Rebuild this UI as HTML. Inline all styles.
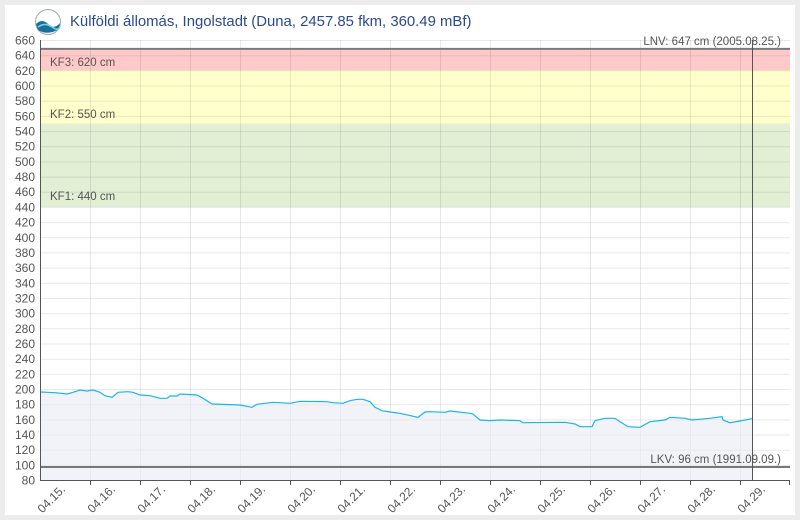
<!DOCTYPE html>
<html><head><meta charset="utf-8"><style>
html,body{margin:0;padding:0;background:#ececec;}
svg{display:block;font-family:"Liberation Sans",sans-serif;}
</style></head><body>
<svg width="800" height="520" viewBox="0 0 800 520">
<rect x="5" y="5" width="790" height="510" fill="#fff"/>
<rect x="40" y="49.9" width="750" height="20.5" fill="#ffc9c9"/>
<rect x="40" y="70.4" width="750" height="53.1" fill="#ffffcc"/>
<rect x="40" y="123.5" width="750" height="83.5" fill="#e2efd4"/>
<g stroke="#000" stroke-opacity="0.09" stroke-width="1">
<line x1="40" y1="40.5" x2="790" y2="40.5"/><line x1="40" y1="55.7" x2="790" y2="55.7"/><line x1="40" y1="70.8" x2="790" y2="70.8"/><line x1="40" y1="86" x2="790" y2="86"/><line x1="40" y1="101.2" x2="790" y2="101.2"/><line x1="40" y1="116.4" x2="790" y2="116.4"/><line x1="40" y1="131.5" x2="790" y2="131.5"/><line x1="40" y1="146.7" x2="790" y2="146.7"/><line x1="40" y1="161.9" x2="790" y2="161.9"/><line x1="40" y1="177.1" x2="790" y2="177.1"/><line x1="40" y1="192.2" x2="790" y2="192.2"/><line x1="40" y1="207.4" x2="790" y2="207.4"/><line x1="40" y1="222.6" x2="790" y2="222.6"/><line x1="40" y1="237.8" x2="790" y2="237.8"/><line x1="40" y1="252.9" x2="790" y2="252.9"/><line x1="40" y1="268.1" x2="790" y2="268.1"/><line x1="40" y1="283.3" x2="790" y2="283.3"/><line x1="40" y1="298.5" x2="790" y2="298.5"/><line x1="40" y1="313.6" x2="790" y2="313.6"/><line x1="40" y1="328.8" x2="790" y2="328.8"/><line x1="40" y1="344" x2="790" y2="344"/><line x1="40" y1="359.2" x2="790" y2="359.2"/><line x1="40" y1="374.3" x2="790" y2="374.3"/><line x1="40" y1="389.5" x2="790" y2="389.5"/><line x1="40" y1="404.7" x2="790" y2="404.7"/><line x1="40" y1="419.9" x2="790" y2="419.9"/><line x1="40" y1="435" x2="790" y2="435"/><line x1="40" y1="450.2" x2="790" y2="450.2"/><line x1="40" y1="465.4" x2="790" y2="465.4"/>
<line x1="90.5" y1="40" x2="90.5" y2="480"/><line x1="140.5" y1="40" x2="140.5" y2="480"/><line x1="190.5" y1="40" x2="190.5" y2="480"/><line x1="240.5" y1="40" x2="240.5" y2="480"/><line x1="290.5" y1="40" x2="290.5" y2="480"/><line x1="340.5" y1="40" x2="340.5" y2="480"/><line x1="390.5" y1="40" x2="390.5" y2="480"/><line x1="440.5" y1="40" x2="440.5" y2="480"/><line x1="490.5" y1="40" x2="490.5" y2="480"/><line x1="540.5" y1="40" x2="540.5" y2="480"/><line x1="590.5" y1="40" x2="590.5" y2="480"/><line x1="640.5" y1="40" x2="640.5" y2="480"/><line x1="690.5" y1="40" x2="690.5" y2="480"/><line x1="740.5" y1="40" x2="740.5" y2="480"/>
</g>
<polygon fill="#e6e9f2" fill-opacity="0.55" points="41,480 41,392 55,392.7 67,394 73,392.3 80,390 87,391 93,390 100,392.3 105,395.7 112,397.3 118,392.3 128,391.7 133,392.3 140,395 150,395.7 160,398.3 167,398.3 170,396 177,396 180,394 197,395 203,398.3 212,404 240,405 252,407.3 257,404.3 273,402.3 290,403.3 300,401.3 327,401.7 333,402.7 343,403.3 350,400.7 357,399.3 363,399.3 370,401.7 375,407.3 382,410.7 390,412 400,413.3 418,417.3 425,412 430,411.7 445,412.3 450,411 470,413.3 473,414 480,420 490,420.7 500,420 520,420.7 523,422.7 565,422.3 575,424 580,426.7 592,426.7 595,420.7 605,418.3 615,418.3 620,421.7 628,426.7 640,427.3 650,421.7 665,420 670,417.3 685,418.3 692,420 710,418.3 722,416.7 723,420 730,422.7 740,421 752,418.7 752,480"/>
<polyline fill="none" stroke="#19b6ea" stroke-width="1.2" points="41,392 55,392.7 67,394 73,392.3 80,390 87,391 93,390 100,392.3 105,395.7 112,397.3 118,392.3 128,391.7 133,392.3 140,395 150,395.7 160,398.3 167,398.3 170,396 177,396 180,394 197,395 203,398.3 212,404 240,405 252,407.3 257,404.3 273,402.3 290,403.3 300,401.3 327,401.7 333,402.7 343,403.3 350,400.7 357,399.3 363,399.3 370,401.7 375,407.3 382,410.7 390,412 400,413.3 418,417.3 425,412 430,411.7 445,412.3 450,411 470,413.3 473,414 480,420 490,420.7 500,420 520,420.7 523,422.7 565,422.3 575,424 580,426.7 592,426.7 595,420.7 605,418.3 615,418.3 620,421.7 628,426.7 640,427.3 650,421.7 665,420 670,417.3 685,418.3 692,420 710,418.3 722,416.7 723,420 730,422.7 740,421 752,418.7"/>
<line x1="40" y1="48.9" x2="790" y2="48.9" stroke="#777" stroke-width="2"/>
<line x1="40" y1="467" x2="790" y2="467" stroke="#777" stroke-width="2"/>
<line x1="752.5" y1="40" x2="752.5" y2="480" stroke="#555" stroke-width="1"/>
<g font-size="11.5" fill="#555">
<text x="781" y="45" text-anchor="end">LNV: 647 cm (2005.08.25.)</text>
<text x="781" y="463" text-anchor="end">LKV: 96 cm (1991.09.09.)</text>
<text x="50" y="66">KF3: 620 cm</text>
<text x="50" y="118">KF2: 550 cm</text>
<text x="50" y="200">KF1: 440 cm</text>
</g>
<line x1="40.5" y1="40" x2="40.5" y2="480" stroke="#555"/>
<line x1="40" y1="480.5" x2="790" y2="480.5" stroke="#555"/>
<g stroke="#555">
<line x1="90.5" y1="480" x2="90.5" y2="485"/><line x1="140.5" y1="480" x2="140.5" y2="485"/><line x1="190.5" y1="480" x2="190.5" y2="485"/><line x1="240.5" y1="480" x2="240.5" y2="485"/><line x1="290.5" y1="480" x2="290.5" y2="485"/><line x1="340.5" y1="480" x2="340.5" y2="485"/><line x1="390.5" y1="480" x2="390.5" y2="485"/><line x1="440.5" y1="480" x2="440.5" y2="485"/><line x1="490.5" y1="480" x2="490.5" y2="485"/><line x1="540.5" y1="480" x2="540.5" y2="485"/><line x1="590.5" y1="480" x2="590.5" y2="485"/><line x1="640.5" y1="480" x2="640.5" y2="485"/><line x1="690.5" y1="480" x2="690.5" y2="485"/><line x1="740.5" y1="480" x2="740.5" y2="485"/><line x1="789.5" y1="480" x2="789.5" y2="485"/>
</g>
<g font-size="12" fill="#555" text-anchor="end">
<text x="35" y="44.5">660</text><text x="35" y="59.7">640</text><text x="35" y="74.8">620</text><text x="35" y="90">600</text><text x="35" y="105.2">580</text><text x="35" y="120.4">560</text><text x="35" y="135.5">540</text><text x="35" y="150.7">520</text><text x="35" y="165.9">500</text><text x="35" y="181.1">480</text><text x="35" y="196.2">460</text><text x="35" y="211.4">440</text><text x="35" y="226.6">420</text><text x="35" y="241.8">400</text><text x="35" y="256.9">380</text><text x="35" y="272.1">360</text><text x="35" y="287.3">340</text><text x="35" y="302.5">320</text><text x="35" y="317.6">300</text><text x="35" y="332.8">280</text><text x="35" y="348">260</text><text x="35" y="363.2">240</text><text x="35" y="378.3">220</text><text x="35" y="393.5">200</text><text x="35" y="408.7">180</text><text x="35" y="423.9">160</text><text x="35" y="439">140</text><text x="35" y="454.2">120</text><text x="35" y="469.4">100</text><text x="35" y="484.5">80</text>
</g>
<g font-size="12" fill="#555" text-anchor="end">
<text transform="translate(66,490) rotate(-45)">04.15.</text>
<text transform="translate(116,490) rotate(-45)">04.16.</text>
<text transform="translate(166,490) rotate(-45)">04.17.</text>
<text transform="translate(216,490) rotate(-45)">04.18.</text>
<text transform="translate(266,490) rotate(-45)">04.19.</text>
<text transform="translate(316,490) rotate(-45)">04.20.</text>
<text transform="translate(366,490) rotate(-45)">04.21.</text>
<text transform="translate(416,490) rotate(-45)">04.22.</text>
<text transform="translate(466,490) rotate(-45)">04.23.</text>
<text transform="translate(516,490) rotate(-45)">04.24.</text>
<text transform="translate(566,490) rotate(-45)">04.25.</text>
<text transform="translate(616,490) rotate(-45)">04.26.</text>
<text transform="translate(666,490) rotate(-45)">04.27.</text>
<text transform="translate(716,490) rotate(-45)">04.28.</text>
<text transform="translate(766,490) rotate(-45)">04.29.</text>
</g>
<circle cx="48" cy="22" r="12.5" fill="#fff" stroke="#9ab" stroke-width="1"/>
<path d="M36,24 Q42,18 48,24 T60,23 L59,29 Q48,36 38,30 Z" fill="#1a6f9a"/>
<path d="M38,27 Q45,22 52,27 T60,26" fill="none" stroke="#7fd0ef" stroke-width="1.5"/>
<text x="70" y="26" font-size="14.9" fill="#2b4a8e">Külföldi állomás, Ingolstadt (Duna, 2457.85 fkm, 360.49 mBf)</text>
</svg>
</body></html>
